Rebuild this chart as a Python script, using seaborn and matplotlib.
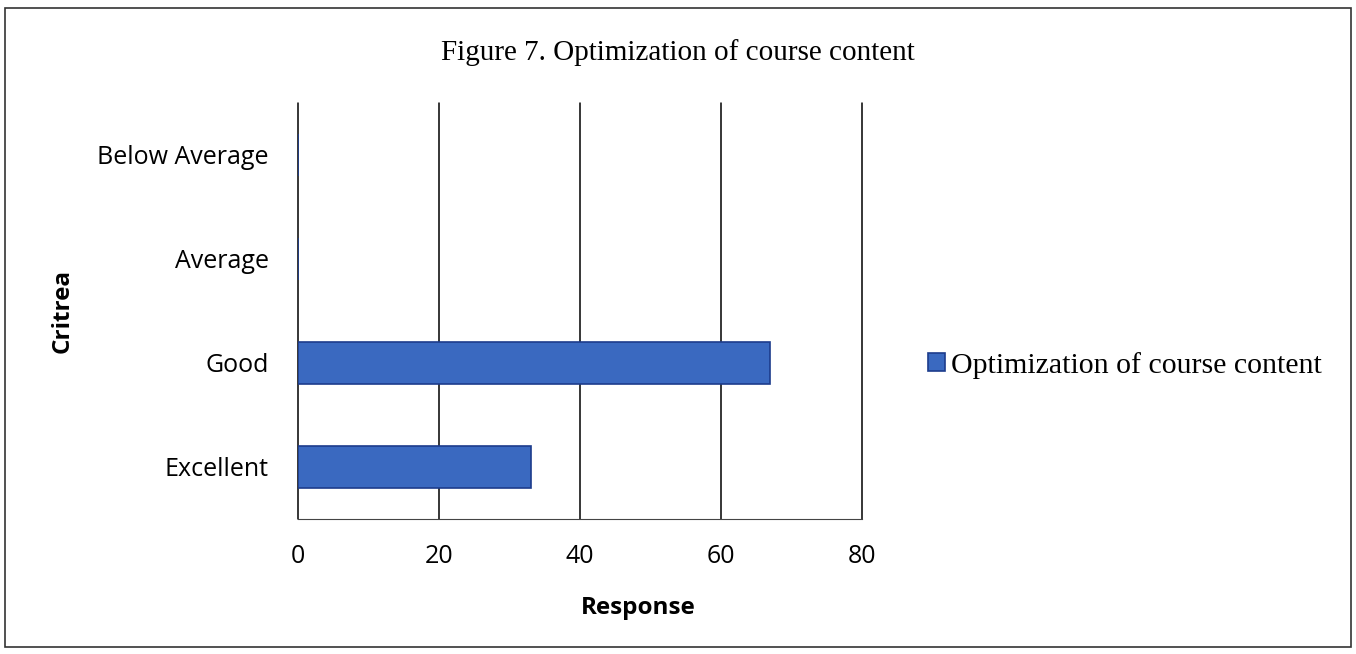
import matplotlib
matplotlib.use('Agg')
import matplotlib.pyplot as plt
import seaborn as sns
import pandas as pd
from matplotlib.patches import Rectangle

# Data
criteria = ['Below Average', 'Average', 'Good', 'Excellent']
responses = [0, 0, 67, 33]
series_name = 'Optimization of course content'
x_ticks = [0, 20, 40, 60, 80]

df = pd.DataFrame({'Critrea': criteria, 'Response': responses})

sns.set_style('white')
plt.rcParams['font.family'] = ['Open Sans', 'DejaVu Sans']
plt.rcParams['text.color'] = 'black'
plt.rcParams['axes.labelcolor'] = 'black'
plt.rcParams['xtick.color'] = 'black'
plt.rcParams['ytick.color'] = 'black'

fig = plt.figure(figsize=(13.56, 6.54), dpi=100)
# plot area in the reference: x 298..862, y 103..519 px
ax = fig.add_axes([298 / 1356, 1 - 519 / 654, 564 / 1356, 416 / 654])

sns.barplot(data=df, x='Response', y='Critrea', order=criteria, orient='h',
            color='#3a69c0', edgecolor='#1c3c8c', linewidth=1.2, width=0.4,
            saturation=1, label=series_name, ax=ax)

ax.set_xlim(0, 80)
ax.set_xticks(x_ticks)
ax.xaxis.grid(True, color='black', linewidth=1.1)
ax.set_axisbelow(True)
for gl in ax.get_xgridlines():
    gl.set_clip_on(False)
for s in ['top', 'right', 'left']:
    ax.spines[s].set_visible(False)
ax.spines['bottom'].set_color('#444444')
ax.spines['bottom'].set_linewidth(0.8)
ax.tick_params(axis='y', length=0, labelsize=18, pad=21)
ax.tick_params(axis='x', length=5, width=0.8, direction='out', labelsize=18, pad=13)
ax.set_xlabel('Response', fontsize=17.5, weight='bold')
ax.xaxis.set_label_coords(0.603, -0.185)
ax.set_ylabel('Critrea', fontsize=17.5, weight='bold', labelpad=16)

fig.suptitle('Figure 7. Optimization of course content', x=0.5, y=0.92, va='center',
             fontsize=21, family=['Liberation Serif', 'DejaVu Serif'])

leg = ax.legend(loc='center left', bbox_to_anchor=(1.07, 0.37), frameon=False,
                handlelength=0.55, handleheight=0.55, handletextpad=0.2,
                prop={'family': ['Liberation Serif', 'DejaVu Serif'], 'size': 21.5})

# outer border
fig.patches.append(Rectangle((0.004, 0.01), 0.992, 0.978, transform=fig.transFigure,
                             fill=False, edgecolor='#333333', linewidth=1.2))

plt.savefig('out.png', dpi=100)
